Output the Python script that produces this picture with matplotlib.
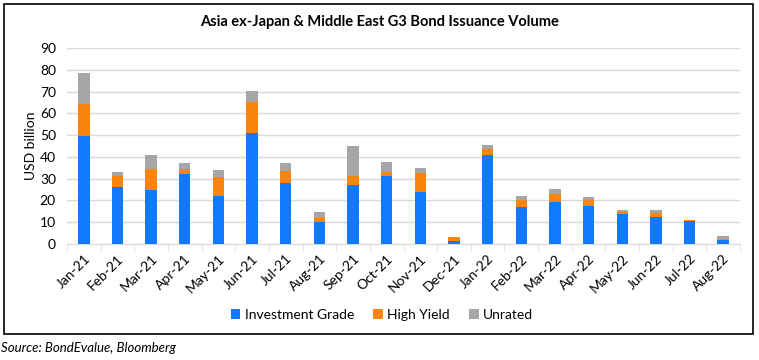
import numpy as np
import matplotlib.pyplot as plt
from matplotlib.patches import Rectangle

plt.rcParams['font.family'] = ['Lato', 'DejaVu Sans']

months = ['Jan-21', 'Feb-21', 'Mar-21', 'Apr-21', 'May-21', 'Jun-21', 'Jul-21',
          'Aug-21', 'Sep-21', 'Oct-21', 'Nov-21', 'Dec-21', 'Jan-22', 'Feb-22',
          'Mar-22', 'Apr-22', 'May-22', 'Jun-22', 'Jul-22', 'Aug-22']
inv_grade = [49.8, 26.3, 24.8, 32.2, 22.2, 51.0, 28.0, 10.2, 27.3, 31.4,
             24.0, 1.5, 41.0, 17.2, 19.4, 17.6, 13.9, 12.4, 10.6, 2.0]
high_yield = [14.7, 5.1, 9.7, 2.3, 8.7, 14.4, 5.5, 1.9, 4.1, 1.8,
              8.6, 1.6, 2.8, 3.2, 3.7, 2.8, 1.0, 1.8, 0.6, 0.3]
unrated = [13.8, 1.8, 6.4, 2.9, 3.1, 4.9, 3.9, 2.6, 13.6, 4.5,
           2.5, 0.3, 1.7, 1.8, 2.2, 1.3, 0.7, 1.4, 0.0, 1.4]

c_ig = '#1179FE'
c_hy = '#FB840D'
c_un = '#A6A6A6'

fig = plt.figure(figsize=(7.59, 3.6), dpi=100)
ax = fig.add_axes([67/759, 1-244/360, (740-67)/759, (244-48)/360])

x = np.arange(len(months))
ig = np.array(inv_grade)
hy = np.array(high_yield)
un = np.array(unrated)
w = 0.34
ax.bar(x, ig, w, color=c_ig, label='Investment Grade', zorder=3)
ax.bar(x, hy, w, bottom=ig, color=c_hy, label='High Yield', zorder=3)
ax.bar(x, un, w, bottom=ig + hy, color=c_un, label='Unrated', zorder=3)

ax.set_xlim(-0.5, len(months) - 0.5)
ax.set_ylim(0, 90)
ax.set_yticks(range(0, 91, 10))
ax.yaxis.grid(True, color='#D9D9D9', linewidth=1, zorder=0)
for s in ['top', 'right', 'left']:
    ax.spines[s].set_visible(False)
ax.spines['bottom'].set_color('#D9D9D9')
ax.tick_params(axis='y', length=0, labelsize=10, pad=8)
ax.set_xticks(x)
ax.set_xticklabels(months, rotation=45, ha='right', rotation_mode='anchor', fontsize=10)
ax.tick_params(axis='x', length=0, pad=6)
ax.set_xticks(np.arange(-0.5, len(months)), minor=True)
ax.tick_params(axis='x', which='minor', length=5, color='#D9D9D9')
ax.set_ylabel('USD billion', fontsize=10, labelpad=2)

fig.text(0.5, 1-22/360, 'Asia ex-Japan & Middle East G3 Bond Issuance Volume',
         ha='center', va='center', fontsize=10.5, fontweight='bold')

fig.legend(loc='center', bbox_to_anchor=(382/759, 1-315/360), ncol=3, frameon=False,
           fontsize=10, handlelength=0.7, handleheight=0.7, handletextpad=0.3,
           columnspacing=1.4)

fig.patches.append(Rectangle((4/759, 1-334/360), 749/759, 330/360, transform=fig.transFigure,
                             fill=False, edgecolor='black', linewidth=1.2))

fig.text(1/759, 1-348/360, 'Source: BondEvalue, Bloomberg', ha='left', va='center',
         fontsize=9.5, style='italic')

fig.savefig('out.png', dpi=100)
